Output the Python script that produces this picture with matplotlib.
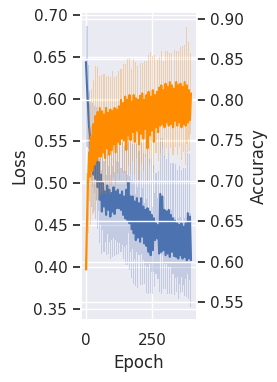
import numpy as np
import matplotlib
matplotlib.use("Agg")
import matplotlib.pyplot as plt
import seaborn as sns

epochs = list(range(0, 400, 4))

loss_mean = [
    0.644, 0.615, 0.590, 0.565, 0.555, 0.520, 0.545, 0.510, 0.540, 0.505,
    0.535, 0.495, 0.525, 0.480, 0.510, 0.466, 0.500, 0.472, 0.490, 0.462,
    0.497, 0.468, 0.492, 0.460, 0.488, 0.466, 0.495, 0.463, 0.490, 0.470,
    0.492, 0.470, 0.486, 0.468, 0.490, 0.462, 0.484, 0.458, 0.492, 0.456,
    0.501, 0.452, 0.484, 0.445, 0.484, 0.440, 0.478, 0.432, 0.482, 0.435,
    0.476, 0.430, 0.482, 0.436, 0.472, 0.428, 0.468, 0.425, 0.470, 0.418,
    0.466, 0.414, 0.462, 0.420, 0.458, 0.432, 0.452, 0.434, 0.450, 0.416,
    0.487, 0.418, 0.484, 0.420, 0.468, 0.414, 0.466, 0.416, 0.468, 0.412,
    0.462, 0.418, 0.458, 0.413, 0.455, 0.412, 0.452, 0.410, 0.450, 0.414,
    0.452, 0.410, 0.448, 0.412, 0.452, 0.408, 0.464, 0.410, 0.460, 0.408,
]

loss_std = [
    0.040, 0.072, 0.050, 0.045, 0.042, 0.048, 0.050, 0.046, 0.052, 0.048,
    0.055, 0.050, 0.058, 0.052, 0.060, 0.050, 0.056, 0.054, 0.060, 0.048,
    0.058, 0.052, 0.062, 0.050, 0.056, 0.054, 0.060, 0.050, 0.058, 0.056,
    0.062, 0.055, 0.058, 0.050, 0.064, 0.052, 0.060, 0.056, 0.066, 0.054,
    0.060, 0.056, 0.066, 0.058, 0.062, 0.060, 0.068, 0.055, 0.064, 0.060,
    0.062, 0.052, 0.066, 0.058, 0.064, 0.048, 0.066, 0.056, 0.070, 0.050,
    0.062, 0.045, 0.068, 0.052, 0.064, 0.056, 0.060, 0.048, 0.064, 0.046,
    0.066, 0.050, 0.070, 0.046, 0.064, 0.040, 0.062, 0.048, 0.068, 0.044,
    0.062, 0.050, 0.066, 0.046, 0.068, 0.042, 0.064, 0.048, 0.070, 0.045,
    0.064, 0.040, 0.070, 0.046, 0.066, 0.044, 0.072, 0.048, 0.075, 0.056,
]

acc_mean = [
    0.590, 0.650, 0.700, 0.735, 0.705, 0.755, 0.712, 0.770, 0.720, 0.780,
    0.725, 0.785, 0.730, 0.790, 0.730, 0.786, 0.735, 0.782, 0.728, 0.790,
    0.740, 0.784, 0.732, 0.788, 0.738, 0.786, 0.745, 0.790, 0.735, 0.788,
    0.748, 0.792, 0.745, 0.800, 0.752, 0.796, 0.750, 0.804, 0.738, 0.800,
    0.756, 0.806, 0.750, 0.798, 0.760, 0.806, 0.748, 0.802, 0.762, 0.800,
    0.745, 0.805, 0.758, 0.808, 0.752, 0.800, 0.764, 0.806, 0.740, 0.810,
    0.756, 0.804, 0.762, 0.812, 0.748, 0.806, 0.766, 0.810, 0.760, 0.815,
    0.768, 0.818, 0.770, 0.812, 0.766, 0.820, 0.772, 0.816, 0.768, 0.822,
    0.770, 0.818, 0.766, 0.814, 0.774, 0.822, 0.768, 0.818, 0.772, 0.820,
    0.766, 0.816, 0.770, 0.822, 0.768, 0.818, 0.772, 0.812, 0.775, 0.808,
]

acc_std = [
    0.048, 0.060, 0.065, 0.060, 0.060, 0.058, 0.055, 0.055, 0.058, 0.062,
    0.050, 0.056, 0.052, 0.040, 0.048, 0.045, 0.050, 0.050, 0.045, 0.040,
    0.042, 0.046, 0.048, 0.040, 0.044, 0.050, 0.040, 0.038, 0.046, 0.042,
    0.040, 0.044, 0.045, 0.038, 0.042, 0.048, 0.040, 0.040, 0.044, 0.050,
    0.038, 0.046, 0.042, 0.040, 0.036, 0.044, 0.040, 0.045, 0.034, 0.042,
    0.044, 0.040, 0.036, 0.038, 0.040, 0.048, 0.035, 0.042, 0.040, 0.045,
    0.036, 0.055, 0.034, 0.042, 0.038, 0.050, 0.032, 0.040, 0.036, 0.038,
    0.034, 0.042, 0.030, 0.036, 0.038, 0.040, 0.032, 0.045, 0.034, 0.036,
    0.030, 0.040, 0.034, 0.048, 0.032, 0.038, 0.036, 0.042, 0.030, 0.045,
    0.040, 0.050, 0.034, 0.046, 0.048, 0.072, 0.036, 0.060, 0.038, 0.050,
]

sns.set_theme(style="darkgrid")
plt.rcParams['font.family'] = ['DejaVu Sans']

x = np.array(epochs)
lm = np.array(loss_mean); ls = np.array(loss_std)
am = np.array(acc_mean); as_ = np.array(acc_std)

fig = plt.figure(figsize=(2.77, 3.82), dpi=100)
ax1 = fig.add_axes([80.5/277, 1 - 320/382, (197 - 80.5)/277, (320 - 11.8)/382])
blue = "#4c72b0"
orange = "darkorange"
ax1.fill_between(x, lm - ls, lm + ls, color=blue, alpha=0.25, linewidth=0, step="mid")
ax1.plot(x, lm, color=blue, linewidth=1.5)
ax1.set_ylabel("Loss")
ax1.set_xlabel("Epoch")
ax1.set_xlim(-20.5, 418.5)
ax1.set_ylim(0.3369, 0.7038)

ax2 = ax1.twinx()
ax2.fill_between(x, am - as_, am + as_, color=orange, alpha=0.3, linewidth=0, step="mid")
ax2.plot(x, am, color=orange, linewidth=1.5)
ax2.set_ylabel("Accuracy")
ax2.set_ylim(0.5277, 0.9089)

fig.savefig("out.png", dpi=100)
